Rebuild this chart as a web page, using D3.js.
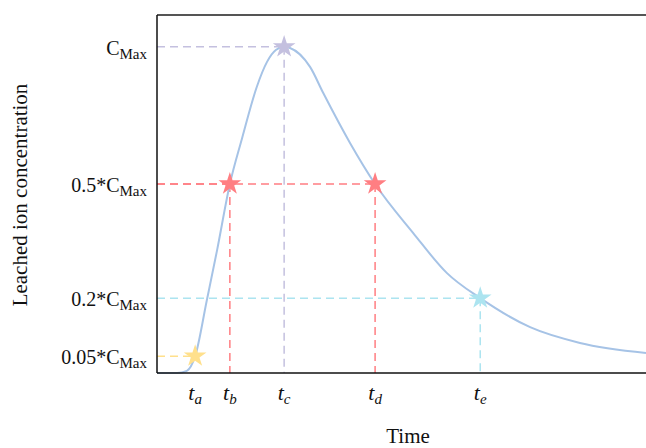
<!DOCTYPE html>
<html>
<head>
<meta charset="utf-8">
<script src="https://cdn.jsdelivr.net/npm/d3@7"></script>
<style>
  body { margin: 0; background: #fff; }
  text { font-family: "Liberation Serif", "Times New Roman", serif; fill: #111; }
</style>
</head>
<body>
<div id="chart-area"></div>
<script>
// curve (arbitrary time units, concentration relative to plot height)
var curveTime = [0, 0.41, 0.61, 0.78, 1.02, 1.23, 1.49, 1.74, 2.04, 2.25, 2.43, 2.60,
  2.72, 3.13, 3.40, 3.95, 4.46, 5.24, 5.93, 6.61, 7.63, 8.65, 10.0];
var curveConc = [0, 0, 0.006, 0.047, 0.204, 0.344, 0.528, 0.656, 0.799, 0.869, 0.902, 0.911,
  0.908, 0.855, 0.782, 0.642, 0.528, 0.391, 0.279, 0.209, 0.128, 0.084, 0.056];

// marked points
var markNames = ['a', 'b', 'c', 'd', 'e'];
var markTime = [0.78, 1.49, 2.60, 4.46, 6.61];
var markConc = [0.047, 0.528, 0.911, 0.528, 0.209];
var markColors = ['#ffe08c', '#ff7e82', '#c4c0df', '#ff7e82', '#ace4f0'];

// y tick labels
var levelPrefix = ['', '0.5*', '0.2*', '0.05*'];
var levelConc = [0.911, 0.528, 0.209, 0.047];

var margin = { left: 157, right: 0, top: 15, bottom: 75 };
var width = 646 - margin.left - margin.right;
var height = 448 - margin.top - margin.bottom;

var svg = d3.select('#chart-area')
  .append('svg')
    .attr('width', 646)
    .attr('height', 448);

var graph = svg.append('g')
    .attr('transform', `translate(${margin.left}, ${margin.top})`);

var x = d3.scaleLinear().domain([0, 10]).range([0, width]);
var y = d3.scaleLinear().domain([0, 1]).range([height, 0]);

var marks = markTime.map((t, i) => ({ t: t, c: markConc[i], name: markNames[i], color: markColors[i] }));

// dashed guide lines
graph.selectAll('.hguide')
  .data(marks)
  .enter().append('line')
    .attr('x1', 0)
    .attr('x2', d => x(d.t))
    .attr('y1', d => y(d.c))
    .attr('y2', d => y(d.c))
    .attr('stroke', d => d.color)
    .attr('stroke-width', 1.5)
    .attr('stroke-dasharray', '8,5');

graph.selectAll('.vguide')
  .data(marks.filter(d => d.name !== 'a'))
  .enter().append('line')
    .attr('x1', d => x(d.t))
    .attr('x2', d => x(d.t))
    .attr('y1', d => y(d.c))
    .attr('y2', height)
    .attr('stroke', d => d.color)
    .attr('stroke-width', 1.5)
    .attr('stroke-dasharray', '8,5');

// the curve
var line = d3.line()
  .x(d => x(d[0]))
  .y(d => y(d[1]))
  .curve(d3.curveMonotoneX);

graph.append('path')
  .datum(curveTime.map((t, i) => [t, curveConc[i]]))
  .attr('d', line)
  .attr('fill', 'none')
  .attr('stroke', '#a6c3e6')
  .attr('stroke-width', 2);

// stars
graph.selectAll('.star')
  .data(marks)
  .enter().append('path')
    .attr('d', d3.symbol().type(d3.symbolStar).size(160))
    .attr('transform', d => `translate(${x(d.t)},${y(d.c)})`)
    .attr('fill', d => d.color);

// frame
graph.append('line')
  .attr('x1', 0).attr('x2', width).attr('y1', 0).attr('y2', 0)
  .attr('stroke', '#555').attr('stroke-width', 2);
graph.append('line')
  .attr('x1', 0).attr('x2', 0).attr('y1', 0).attr('y2', height)
  .attr('stroke', '#111').attr('stroke-width', 1.5);
graph.append('line')
  .attr('x1', 0).attr('x2', width).attr('y1', height).attr('y2', height)
  .attr('stroke', '#111').attr('stroke-width', 1.5);

// y level labels
var ylab = graph.selectAll('.ylab')
  .data(levelConc)
  .enter().append('text')
    .attr('x', -10)
    .attr('y', d => y(d) + 8)
    .attr('text-anchor', 'end')
    .attr('font-size', '20px');
ylab.append('tspan').text((d, i) => levelPrefix[i] + 'C');
ylab.append('tspan').attr('font-size', '15px').attr('dy', 4).text('Max');

// x tick labels
var xlab = graph.selectAll('.xlab')
  .data(marks)
  .enter().append('text')
    .attr('x', d => x(d.t))
    .attr('y', height + 27)
    .attr('text-anchor', 'middle')
    .attr('font-size', '22px')
    .attr('font-style', 'italic');
xlab.append('tspan').text('t');
xlab.append('tspan').attr('font-size', '15px').attr('dy', 4).text(d => d.name);

// axis titles
graph.append('text')
  .attr('x', 251)
  .attr('y', height + 70)
  .attr('text-anchor', 'middle')
  .attr('font-size', '21px')
  .text('Time');

graph.append('text')
  .attr('transform', 'rotate(-90)')
  .attr('x', -(195 - margin.top))
  .attr('y', -130)
  .attr('text-anchor', 'middle')
  .attr('font-size', '21px')
  .text('Leached ion concentration');
</script>
</body>
</html>
